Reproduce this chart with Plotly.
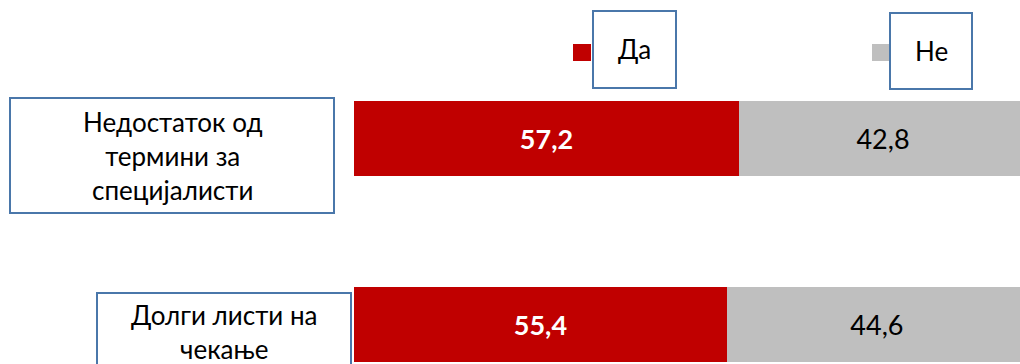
import plotly.graph_objects as go

# Survey reasons and the share of "yes"/"no" answers (percent)
categories = ["Недостаток од<br>термини за<br>специјалисти", "Долги листи на<br>чекање"]
series_names = ["Да", "Не"]
yes_values = [57.2, 55.4]
no_values = [42.8, 44.6]

RED = "#c00000"
GREY = "#bfbfbf"
BORDER = "#4a77aa"
FONT = "Lato, 'Open Sans', sans-serif"
LABEL_SIZE = 26
VALUE_SIZE = 27

W, H = 1020, 364
LEFT = 354  # left edge of the plot area in px
PLOT_W = W - LEFT

ypos = list(range(len(categories)))

fig = go.Figure()
fig.add_trace(go.Bar(
    y=ypos, x=yes_values, orientation="h", name=series_names[0],
    marker=dict(color=RED, line=dict(width=0)),
    texttemplate="<b>%{x:.1f}</b>", textposition="inside", insidetextanchor="middle",
    textfont=dict(color="white", size=VALUE_SIZE, family=FONT),
    width=0.40,
))
fig.add_trace(go.Bar(
    y=ypos, x=no_values, orientation="h", name=series_names[1],
    marker=dict(color=GREY, line=dict(width=0)),
    texttemplate="%{x:.1f}", textposition="inside", insidetextanchor="middle",
    textfont=dict(color="black", size=VALUE_SIZE, family=FONT),
    width=0.40,
))

def px_to_paper_x(px):
    return (px - LEFT) / PLOT_W

def px_to_paper_y(py):
    return 1 - py / H

shapes = []
annotations = []

# Category label boxes to the left of each bar
label_boxes = [
    dict(x0=10, x1=334, dy0=-0.218, dy1=0.400),
    dict(x0=97, x1=351, dy0=-0.170, dy1=0.250),
]
for i, (cat, box) in enumerate(zip(categories, label_boxes)):
    shapes.append(dict(
        type="rect", xref="paper", yref="y",
        x0=px_to_paper_x(box["x0"]), x1=px_to_paper_x(box["x1"]),
        y0=ypos[i] + box["dy0"], y1=ypos[i] + box["dy1"],
        line=dict(color=BORDER, width=2), fillcolor="white", layer="above",
    ))
    annotations.append(dict(
        xref="paper", yref="y",
        x=px_to_paper_x((box["x0"] + box["x1"]) / 2),
        y=ypos[i] + (box["dy0"] + box["dy1"]) / 2,
        text=cat, showarrow=False, align="center",
        font=dict(size=LABEL_SIZE, color="black", family=FONT),
        yanchor="middle", xanchor="center",
    ))

# Legend: coloured square followed by a framed label
legend_items = [
    dict(color=RED, sq=(573, 591), box=(593, 676, 11, 88)),
    dict(color=GREY, sq=(872, 889), box=(890, 972, 13, 89)),
]
for name, item in zip(series_names, legend_items):
    shapes.append(dict(
        type="rect", xref="paper", yref="paper",
        x0=px_to_paper_x(item["sq"][0]), x1=px_to_paper_x(item["sq"][1]),
        y0=px_to_paper_y(61), y1=px_to_paper_y(44),
        line=dict(width=0), fillcolor=item["color"],
    ))
    bx0, bx1, by0, by1 = item["box"]
    shapes.append(dict(
        type="rect", xref="paper", yref="paper",
        x0=px_to_paper_x(bx0), x1=px_to_paper_x(bx1),
        y0=px_to_paper_y(by1), y1=px_to_paper_y(by0),
        line=dict(color=BORDER, width=2), fillcolor="rgba(0,0,0,0)",
    ))
    annotations.append(dict(
        xref="paper", yref="paper",
        x=px_to_paper_x((bx0 + bx1) / 2), y=px_to_paper_y((by0 + by1) / 2),
        text=name, showarrow=False,
        font=dict(size=LABEL_SIZE, color="black", family=FONT),
        xanchor="center", yanchor="middle",
    ))

fig.update_layout(
    width=W, height=H,
    barmode="stack",
    separators=", ",
    showlegend=False,
    paper_bgcolor="white", plot_bgcolor="white",
    margin=dict(l=LEFT, r=0, t=0, b=0),
    xaxis=dict(range=[0, 98.96], visible=False, fixedrange=True),
    yaxis=dict(range=[1.212, -0.745], visible=False, fixedrange=True),
    uniformtext=dict(minsize=VALUE_SIZE, mode="show"),
    shapes=shapes, annotations=annotations,
    font=dict(family=FONT),
)

fig.write_html("out.html")
